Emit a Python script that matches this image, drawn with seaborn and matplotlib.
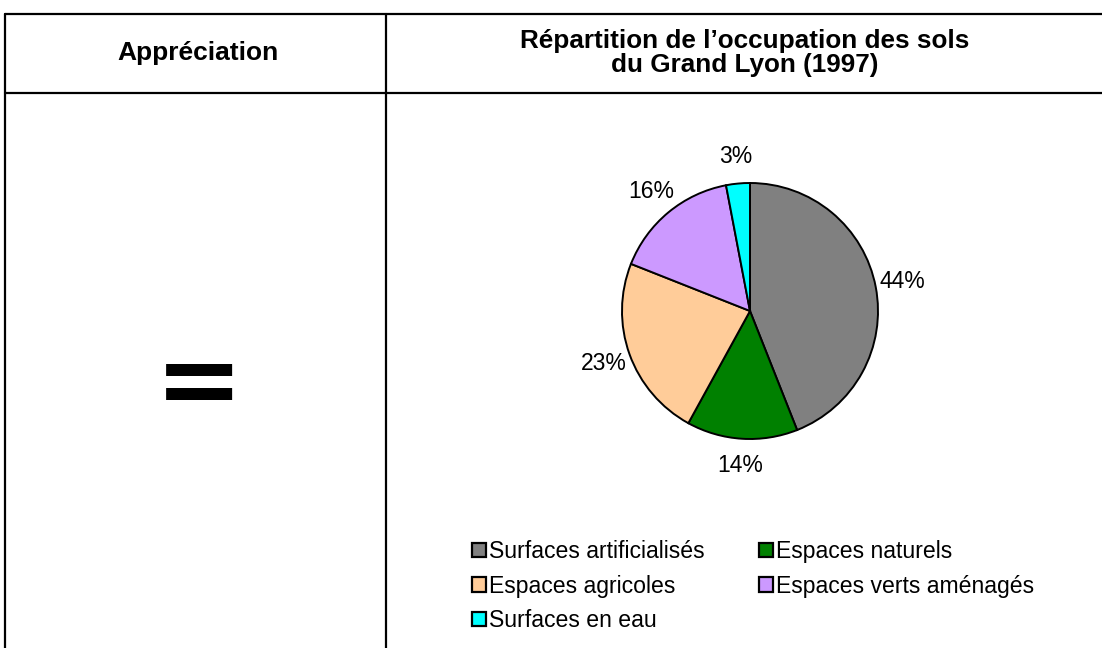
import matplotlib
matplotlib.use("Agg")
import matplotlib.pyplot as plt
import seaborn as sns
from matplotlib.patches import Patch
from matplotlib.lines import Line2D

sns.set_theme(style="white")
plt.rcParams['font.family'] = ['Liberation Sans', 'DejaVu Sans']
plt.rcParams['text.color'] = 'black'

# Data
categories = ["Surfaces artificialisés", "Espaces naturels", "Espaces agricoles",
              "Espaces verts aménagés", "Surfaces en eau"]
values = [44, 14, 23, 16, 3]
colors = ["#808080", "#008000", "#FFCC99", "#CC99FF", "#00FFFF"]
header_left = "Appréciation"
header_right = "Répartition de l’occupation des sols\ndu Grand Lyon (1997)"
rating = "="

W, H = 1102, 648
fig = plt.figure(figsize=(W / 100, H / 100), dpi=100)
fig.patch.set_facecolor("white")

# Table frame in pixel coordinates
bg = fig.add_axes([0, 0, 1, 1])
bg.set_xlim(0, W)
bg.set_ylim(H, 0)
bg.axis("off")
lw = 1.6
bg.add_line(Line2D([5, W], [14, 14], color="black", lw=lw))
bg.add_line(Line2D([5, W], [93, 93], color="black", lw=lw))
bg.add_line(Line2D([5, 5], [14, H], color="black", lw=lw))
bg.add_line(Line2D([386, 386], [14, H], color="black", lw=lw))

bg.text(198, 53, header_left, ha="center", va="center", fontsize=19, fontweight="bold")
bg.text(745, 53, header_right, ha="center", va="center", fontsize=18.8, fontweight="bold",
        linespacing=1.05)
bg.text(198.5, 415, rating, ha="center", va="baseline", fontsize=76,
        family="DejaVu Sans", fontweight="bold")

# Pie
cx, cy, r = 750, 311, 128
pax = fig.add_axes([(cx - r) / W, (H - cy - r) / H, 2 * r / W, 2 * r / H])
wedges, texts, autotexts = pax.pie(
    values, colors=colors, startangle=90, counterclock=False,
    autopct="%1.0f%%", pctdistance=1.21,
    wedgeprops=dict(edgecolor="black", linewidth=1.4),
    textprops=dict(fontsize=16.5, color="black"))
pax.set_xlim(-1, 1)
pax.set_ylim(-1, 1)
pax.set_aspect("equal")

# Legend (column-major order to reproduce row layout)
order = [0, 2, 4, 1, 3]
handles = [Patch(facecolor=colors[i], edgecolor="black", linewidth=1.6) for i in order]
labels = [categories[i] for i in order]
fig.legend(handles, labels, ncol=2, frameon=False, fontsize=16.6,
           loc="upper left", bbox_to_anchor=(472 / W, 1 - 540 / H),
           handlelength=0.6, handleheight=0.6, handletextpad=0.15,
           columnspacing=2.35, labelspacing=0.5, borderaxespad=0, borderpad=0)

fig.savefig("out.png", dpi=100, facecolor="white")
